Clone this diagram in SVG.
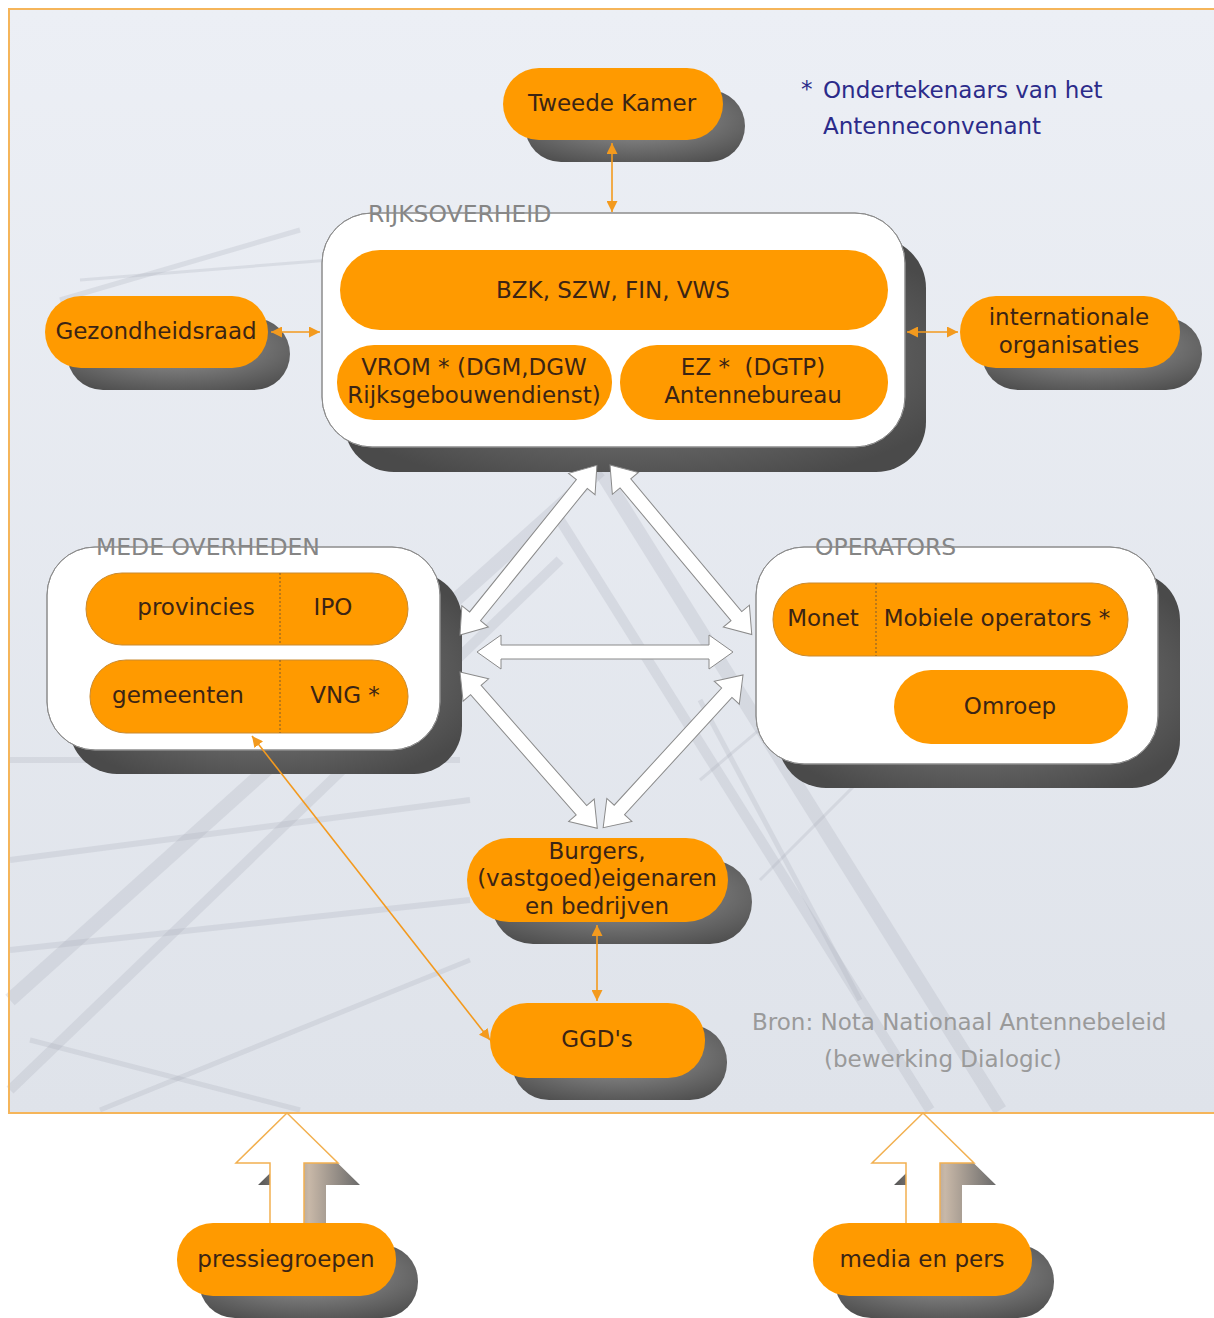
<svg xmlns="http://www.w3.org/2000/svg" width="1214" height="1318" viewBox="0 0 1214 1318">
<defs>
<linearGradient id="bg" x1="0" y1="0" x2="0" y2="1">
<stop offset="0" stop-color="#eceff5"/><stop offset="1" stop-color="#dfe3ea"/>
</linearGradient>
<radialGradient id="shadow" cx="0.5" cy="0.4" r="0.7">
<stop offset="0" stop-color="#9a9a9a"/><stop offset="1" stop-color="#4e4e4e"/>
</radialGradient>
<radialGradient id="bshadow" cx="0.5" cy="0.5" r="0.6">
<stop offset="0" stop-color="#8a8a8a"/><stop offset="1" stop-color="#4a4a4a"/>
</radialGradient>
<linearGradient id="ashadow" x1="0" y1="0" x2="1" y2="0">
<stop offset="0" stop-color="#555"/><stop offset="0.5" stop-color="#c8b8a8"/><stop offset="1" stop-color="#6a6a6a"/>
</linearGradient>
<marker id="ah" viewBox="0 0 10 10" refX="10" refY="5" markerWidth="11" markerHeight="11" markerUnits="userSpaceOnUse" orient="auto-start-reverse">
<path d="M0,0 L10,5 L0,10 z" fill="#f39a1e"/>
</marker>
<style>
.pill{fill:#ff9a00}
.ipill{fill:#ff9a00;stroke:#c98a30;stroke-width:1}
.sh{fill:url(#shadow)}
.bsh{fill:url(#bshadow)}
.box{fill:#ffffff;stroke:#8c8c8c;stroke-width:1}
.boxline{fill:none;stroke:#8c8c8c;stroke-width:1}
.t{font-family:"DejaVu Sans",Verdana,sans-serif;font-size:23px;fill:#3b2414;text-anchor:middle}
.lbl{font-family:"DejaVu Sans",Verdana,sans-serif;font-size:23.5px;fill:#858585}
.note{font-family:"DejaVu Sans",Verdana,sans-serif;font-size:23px;fill:#2b2b8a}
.src{font-family:"DejaVu Sans",Verdana,sans-serif;font-size:23px;fill:#9a9a9a}
.div{stroke:#7a5a30;stroke-width:1;stroke-dasharray:2,2}
.conn{stroke:#f39a1e;stroke-width:1.6;fill:none;marker-start:url(#ah);marker-end:url(#ah)}
.warrow{fill:#ffffff;stroke:#8a8a8a;stroke-width:1}
.uparrow{fill:#ffffff;stroke:#f2b050;stroke-width:1.5}
.beam{stroke:#a8adb6;fill:none;opacity:0.25}
</style>
</defs>

<!-- background -->
<rect x="0" y="0" width="1214" height="1318" fill="#ffffff"/>
<rect x="9" y="9" width="1210" height="1104" fill="url(#bg)"/>
<g id="scenery">
<path class="beam" stroke-width="14" d="M10,1000 L600,470"/>
<path class="beam" stroke-width="10" d="M10,1090 L560,560"/>
<path class="beam" stroke-width="5" d="M60,300 L300,230"/>
<path class="beam" stroke-width="3" d="M80,280 L330,260"/>
<path class="beam" stroke-width="14" d="M600,470 L1000,1110"/>
<path class="beam" stroke-width="10" d="M560,520 L930,1110"/>
<path class="beam" stroke-width="6" d="M10,760 L460,760"/>
<path class="beam" stroke-width="6" d="M10,860 L470,800"/>
<path class="beam" stroke-width="6" d="M10,950 L470,900"/>
<path class="beam" stroke-width="5" d="M100,1110 L470,960"/>
<path class="beam" stroke-width="5" d="M30,1040 L300,1110"/>
<path class="beam" stroke-width="3" d="M700,780 L960,560"/>
<path class="beam" stroke-width="3" d="M760,880 L1000,640"/>
<path class="beam" stroke-width="5" d="M700,700 L860,1000"/>
</g>
<rect x="9" y="9" width="1212" height="1104" fill="none" stroke="#f5b55a" stroke-width="2"/>

<g id="tweede-kamer">
<rect class="sh" x="525" y="90" width="220" height="72" rx="36"/>
<rect class="pill" x="503" y="68" width="220" height="72" rx="36"/>
<text class="t" x="612" y="111">Tweede Kamer</text>
</g>

<g id="footnote">
<text class="note" x="801" y="97">*</text>
<text class="note" x="823" y="98">Ondertekenaars van het</text>
<text class="note" x="823" y="134">Antenneconvenant</text>
</g>

<g id="rijksoverheid">
<rect class="bsh" x="344" y="238" width="582" height="234" rx="50"/>
<rect class="box" x="322" y="213" width="583" height="234" rx="50"/>
<text class="lbl" x="368" y="222">RIJKSOVERHEID</text>
<rect class="boxline" x="322" y="213" width="583" height="234" rx="50"/>
<g id="bzk">
<rect class="pill" x="340" y="250" width="548" height="80" rx="40"/>
<text class="t" x="613" y="298">BZK, SZW, FIN, VWS</text>
</g>
<g id="vrom">
<rect class="pill" x="337" y="345" width="275" height="75" rx="37"/>
<text class="t" x="474" y="375">VROM * (DGM,DGW</text>
<text class="t" x="474" y="403">Rijksgebouwendienst)</text>
</g>
<g id="ez">
<rect class="pill" x="620" y="345" width="268" height="75" rx="37"/>
<text class="t" x="753" y="375" xml:space="preserve">EZ *  (DGTP)</text>
<text class="t" x="753" y="403">Antennebureau</text>
</g>
</g>

<g id="gezondheidsraad">
<rect class="sh" x="67" y="318" width="223" height="72" rx="36"/>
<rect class="pill" x="45" y="296" width="223" height="72" rx="36"/>
<text class="t" x="156" y="339">Gezondheidsraad</text>
</g>

<g id="internationale-organisaties">
<rect class="sh" x="982" y="318" width="220" height="72" rx="36"/>
<rect class="pill" x="960" y="296" width="220" height="72" rx="36"/>
<text class="t" x="1069" y="325">internationale</text>
<text class="t" x="1069" y="353">organisaties</text>
</g>

<g id="mede-overheden">
<rect class="bsh" x="69" y="572" width="393" height="202" rx="48"/>
<rect class="box" x="47" y="547" width="393" height="203" rx="48"/>
<text class="lbl" x="96" y="555">MEDE OVERHEDEN</text>
<rect class="boxline" x="47" y="547" width="393" height="203" rx="48"/>
<g id="provincies-ipo">
<rect class="ipill" x="86" y="573" width="322" height="72" rx="36"/>
<line class="div" x1="280" y1="573" x2="280" y2="645"/>
<text class="t" x="196" y="615">provincies</text>
<text class="t" x="333" y="615">IPO</text>
</g>
<g id="gemeenten-vng">
<rect class="ipill" x="90" y="660" width="318" height="73" rx="36"/>
<line class="div" x1="280" y1="660" x2="280" y2="733"/>
<text class="t" x="178" y="703">gemeenten</text>
<text class="t" x="345" y="703">VNG *</text>
</g>
</g>

<g id="operators">
<rect class="bsh" x="778" y="572" width="402" height="216" rx="48"/>
<rect class="box" x="756" y="547" width="402" height="217" rx="48"/>
<text class="lbl" x="815" y="555">OPERATORS</text>
<rect class="boxline" x="756" y="547" width="402" height="217" rx="48"/>
<g id="monet-mobiele">
<rect class="ipill" x="773" y="583" width="355" height="73" rx="36"/>
<line class="div" x1="876" y1="583" x2="876" y2="656"/>
<text class="t" x="823" y="626">Monet</text>
<text class="t" x="997" y="626">Mobiele operators *</text>
</g>
<g id="omroep">
<rect class="pill" x="894" y="670" width="234" height="74" rx="37"/>
<text class="t" x="1010" y="714">Omroep</text>
</g>
</g>

<g id="burgers">
<rect class="sh" x="491" y="860" width="261" height="84" rx="42"/>
<rect class="pill" x="467" y="838" width="261" height="84" rx="42"/>
<text class="t" x="597" y="859">Burgers,</text>
<text class="t" x="597" y="886">(vastgoed)eigenaren</text>
<text class="t" x="597" y="914">en bedrijven</text>
</g>

<g id="ggds">
<rect class="sh" x="512" y="1025" width="215" height="75" rx="37"/>
<rect class="pill" x="490" y="1003" width="215" height="75" rx="37"/>
<text class="t" x="597" y="1047">GGD's</text>
</g>

<g id="bron">
<text class="src" x="752" y="1030">Bron: Nota Nationaal Antennebeleid</text>
<text class="src" x="824" y="1067">(bewerking Dialogic)</text>
</g>

<g id="connectors">
<line class="conn" x1="612" y1="143" x2="612" y2="212"/>
<line class="conn" x1="271" y1="332" x2="320" y2="332"/>
<line class="conn" x1="907" y1="332" x2="958" y2="332"/>
<line class="conn" x1="597" y1="925" x2="597" y2="1001"/>
<line class="conn" x1="252" y1="736" x2="490" y2="1040"/>
<path class="warrow" transform="translate(460,635) rotate(-51.1)" d="M0,0 L24,-17 L24,-7 L194,-7 L194,-17 L218,0 L194,17 L194,7 L24,7 L24,17 Z"/>
<path class="warrow" transform="translate(610,465) rotate(50.1)" d="M0,0 L24,-17 L24,-7 L197,-7 L197,-17 L221,0 L197,17 L197,7 L24,7 L24,17 Z"/>
<path class="warrow" transform="translate(477,652)" d="M0,0 L24,-17 L24,-7 L232,-7 L232,-17 L256,0 L232,17 L232,7 L24,7 L24,17 Z"/>
<path class="warrow" transform="translate(460,672) rotate(48.7)" d="M0,0 L24,-17 L24,-7 L184,-7 L184,-17 L208,0 L184,17 L184,7 L24,7 L24,17 Z"/>
<path class="warrow" transform="translate(743,675) rotate(132.5)" d="M0,0 L24,-17 L24,-7 L183,-7 L183,-17 L207,0 L183,17 L183,7 L24,7 L24,17 Z"/>
<!-- upward block arrows -->
<path fill="url(#ashadow)" d="M309,1135 L360,1185 L326,1185 L326,1262 L292,1262 L292,1185 L258,1185 Z"/>
<path class="uparrow" d="M287,1113 L338,1163 L304,1163 L304,1240 L270,1240 L270,1163 L236,1163 Z"/>
<path fill="url(#ashadow)" d="M945,1135 L996,1185 L962,1185 L962,1262 L928,1262 L928,1185 L894,1185 Z"/>
<path class="uparrow" d="M923,1113 L974,1163 L940,1163 L940,1240 L906,1240 L906,1163 L872,1163 Z"/>
</g>

<g id="pressiegroepen">
<rect class="sh" x="199" y="1245" width="219" height="73" rx="36"/>
<rect class="pill" x="177" y="1223" width="219" height="73" rx="36"/>
<text class="t" x="286" y="1267">pressiegroepen</text>
</g>

<g id="media-en-pers">
<rect class="sh" x="835" y="1245" width="219" height="73" rx="36"/>
<rect class="pill" x="813" y="1223" width="219" height="73" rx="36"/>
<text class="t" x="922" y="1267">media en pers</text>
</g>
</svg>
